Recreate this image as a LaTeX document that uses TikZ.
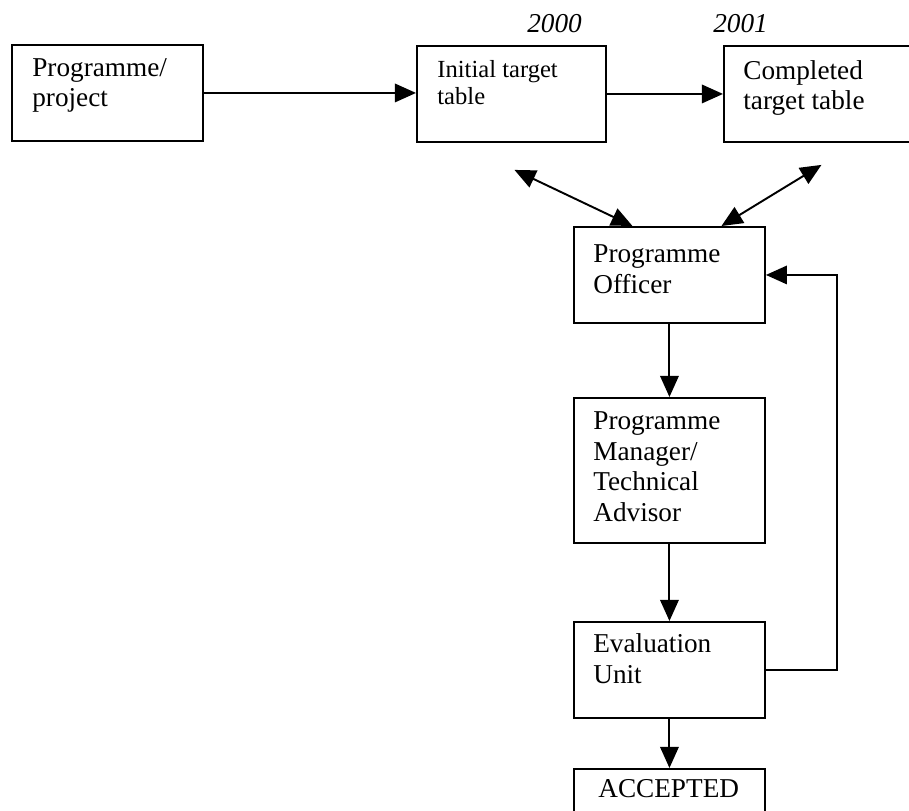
\documentclass[tikz,border=0pt]{standalone}
\usepackage{fontspec}
\setmainfont{Liberation Serif}
\usetikzlibrary{arrows.meta}

\begin{document}
\begin{tikzpicture}[
    x=0.02cm, y=-0.02cm,
    box/.style={draw, line width=1.1pt, anchor=north west, minimum width=3.82cm, minimum height=1.92cm, inner sep=0pt},
    txt/.style={anchor=base west, align=left, inner sep=0pt, font=\fontsize{15.5}{17.3}\selectfont},
    small/.style={txt, font=\fontsize{14}{15.5}\selectfont},
    year/.style={anchor=base west, inner sep=0pt, font=\fontsize{15.5}{17.3}\selectfont\itshape},
    edge/.style={-{Triangle[length=12pt, width=10.5pt]}, line width=1.1pt},
    both/.style={{Triangle[length=12pt, width=10.5pt]}-{Triangle[length=12pt, width=10.5pt]}, line width=1.1pt}
]
\clip (0,0) rectangle (909,811);

% Top row: project and target tables
\node[box] (project) at (11,44) {};
\node[box, minimum width=3.78cm] (initial) at (416,45) {};
\node[box] (completed) at (723,45) {};

% Review chain
\node[box] (officer) at (573,226) {};
\node[box, minimum height=2.9cm] (manager) at (573,397) {};
\node[box] (evaluation) at (573,621) {};
\node[box] (accepted) at (573,768) {};

% Box texts (placed by the baseline of their last line)
\node[txt] (project-t) at (32,107) {Programme/\\project};
\node[small] (initial-t) at (437,105) {Initial target\\table};
\node[txt] (completed-t) at (743,110) {Completed\\target table};
\node[txt] (officer-t) at (593,293) {Programme\\Officer};
\node[txt] (manager-t) at (593,521) {Programme\\Manager/\\Technical\\Advisor};
\node[txt] (evaluation-t) at (593,683) {Evaluation\\Unit};
\node[txt] (accepted-t) at (598,797) {ACCEPTED};

% Years
\node[year] (y2000) at (527,33) {2000};
\node[year] (y2001) at (713,33) {2001};

% Connections along the top
\draw[edge] (project.east) -- (project.east -| initial.west);
\draw[edge] (initial.east) -- (initial.east -| completed.west);

% Tables <-> Programme Officer
\coordinate (initial-tip) at ([shift={(3,27)}]initial.south);
\coordinate (completed-tip) at ([shift={(2,22)}]completed.south);
\draw[both] (initial-tip) -- ([shift={(-37,0)}]officer.north);
\draw[both] (completed-tip) -- ([shift={(52,0)}]officer.north);

% Down the chain
\draw[edge] (officer) -- (manager);
\draw[edge] (manager) -- (evaluation);
\draw[edge] (evaluation) -- (accepted);

% Feedback to the officer
\draw[edge] (evaluation.east) -- ++(71,0) |- (officer.east);

\end{tikzpicture}
\end{document}
